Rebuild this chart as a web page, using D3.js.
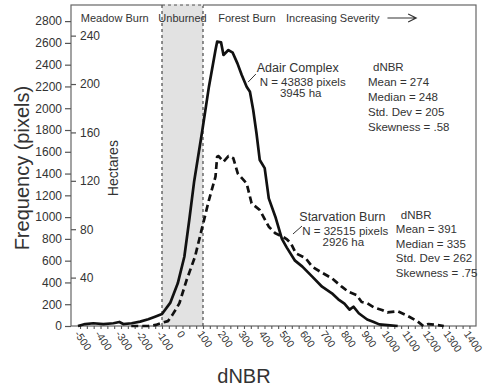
<!DOCTYPE html>
<html>
<head>
<meta charset="utf-8">
<script src="https://cdn.jsdelivr.net/npm/d3@7"></script>
<style>
  body { margin: 0; background: #fff; }
  text { font-family: "Liberation Sans", Arial, sans-serif; fill: #333; }
</style>
</head>
<body>
<div class="chart"></div>
<script>
// dNBR bins and pixel counts
var adairDnbr = [-510,-475,-435,-386,-337,-308,-289,-248,-207,-167,-134,-100,-60,-23,9,33,57,97,129,161,169,188,200,224,245,268,289,313,329,345,361,377,401,421,453,485,509,549,585,633,681,729,760,790,815,834,860,901,930,960,1000,1050];
var adairFreq = [0,18,25,18,25,37,18,25,40,62,85,110,212,392,636,973,1330,1800,2198,2534,2611,2605,2489,2534,2510,2412,2305,2198,2152,1984,1770,1524,1450,1172,1004,800,720,600,545,453,361,300,245,205,150,177,117,60,40,15,8,0];

var starvDnbr = [-250,-167,-130,-108,-71,-50,-30,-15,20,61,97,129,161,169,176,200,224,248,270,313,337,377,421,453,489,510,529,553,601,633,672,729,777,809,849,874,901,933,973,1000,1050,1090,1145,1175,1200,1240,1275];
var starvFreq = [0,0,10,25,45,100,160,210,422,636,912,1157,1371,1555,1561,1509,1561,1540,1400,1310,1127,1065,912,851,820,795,759,668,622,545,499,438,361,315,285,220,210,172,147,125,135,101,45,0,18,9,0];

var xTicks = d3.range(-500, 1401, 100);
var yTicks = d3.range(0, 2801, 200);
var haTicks = [40, 80, 120, 160, 200, 240];
var haPerPixel = 0.09;   // 30 m pixels

var adairStats = ["dNBR", "Mean = 274", "Median = 248", "Std. Dev = 205", "Skewness = .58"];
var starvStats = ["dNBR", "Mean = 391", "Median = 335", "Std. Dev = 262", "Skewness = .75"];

var margin = {top: 5, right: 8, bottom: 63, left: 71},
    fullWidth = 484,
    fullHeight = 389,
    width = fullWidth - margin.left - margin.right,
    height = fullHeight - margin.top - margin.bottom;

var svg = d3.select(".chart")
    .append("svg")
    .attr("width", fullWidth)
    .attr("height", fullHeight);

var g = svg.append("g")
    .attr("transform", "translate(" + margin.left + "," + margin.top + ")");

var x = d3.scaleLinear().domain([-544, 1432]).range([0, width]);
var y = d3.scaleLinear().domain([0, 2948]).range([height, 0]);
var yHa = d3.scaleLinear().domain([0, 2948 * haPerPixel]).range([height, 0]);

// unburned band
g.append("rect")
    .attr("x", x(-100))
    .attr("y", 0)
    .attr("width", x(100) - x(-100))
    .attr("height", height)
    .attr("fill", "#e2e2e2");

// frame
g.append("rect")
    .attr("width", width)
    .attr("height", height)
    .attr("fill", "none")
    .attr("stroke", "#666")
    .attr("stroke-width", 1.2);

[-100, 100].forEach(function (d) {
    g.append("line")
	.attr("x1", x(d)).attr("x2", x(d))
	.attr("y1", 0).attr("y2", height)
	.attr("stroke", "#555")
	.attr("stroke-width", 1.3)
	.attr("stroke-dasharray", "3,3");
});
g.append("line")
    .attr("x1", x(-100)).attr("x2", x(100))
    .attr("y1", 0).attr("y2", 0)
    .attr("stroke", "#fff").attr("stroke-width", 1.5)
    .attr("stroke-dasharray", "3,3").attr("stroke-dashoffset", 3);

// left axis, pixels
var yAxis = g.append("g")
    .call(d3.axisLeft(y).tickValues(yTicks).tickSize(6).tickPadding(3).tickFormat(d => String(d)));
yAxis.select(".domain").remove();
yAxis.selectAll("line").attr("stroke", "#555").attr("stroke-width", 1.2);
yAxis.selectAll("text")
    .style("font-family", "'Liberation Sans', Arial, sans-serif")
    .style("font-size", "12px").attr("fill", "#333");

// inner axis, hectares
var haAxis = g.append("g")
    .call(d3.axisRight(yHa).tickValues(haTicks).tickSize(5).tickPadding(4).tickFormat(d => String(d)));
haAxis.select(".domain").remove();
haAxis.selectAll("line").attr("stroke", "#555").attr("stroke-width", 1.2);
haAxis.selectAll("text")
    .style("font-family", "'Liberation Sans', Arial, sans-serif")
    .style("font-size", "12px").attr("fill", "#333");

// bottom axis
var xAxis = g.append("g")
    .attr("transform", "translate(0," + height + ")")
    .call(d3.axisBottom(x).tickValues(d3.range(-500, 1420, 100 / 3))
	  .tickSize(3).tickFormat(""));
xAxis.select(".domain").remove();
xAxis.selectAll("line").attr("stroke", "#555").attr("stroke-width", 1.1);

g.append("g")
    .selectAll("text")
    .data(xTicks)
    .enter()
    .append("text")
    .attr("transform", d => "translate(" + (x(d) - 6) + "," + (height + 8) + ") rotate(55)")
    .style("font-size", "10.5px")
    .text(d => String(d));

// curves
var line = d3.line()
    .x(d => x(d[0]))
    .y(d => y(d[1]));

g.append("path")
    .datum(d3.zip(starvDnbr, starvFreq))
    .attr("d", line)
    .attr("fill", "none")
    .attr("stroke", "#111")
    .attr("stroke-width", 2.7)
    .attr("stroke-dasharray", "7,4")
    .attr("stroke-linejoin", "round");

g.append("path")
    .datum(d3.zip(adairDnbr, adairFreq))
    .attr("d", line)
    .attr("fill", "none")
    .attr("stroke", "#111")
    .attr("stroke-width", 2.7)
    .attr("stroke-linejoin", "round");

// region labels along the top
var topLabels = g.append("g").style("font-size", "11px");
topLabels.append("text").attr("x", x(-496)).attr("y", 17).text("Meadow Burn");
topLabels.append("text").attr("x", x(0)).attr("y", 17).attr("text-anchor", "middle").text("Unburned");
topLabels.append("text").attr("x", x(174)).attr("y", 17).text("Forest Burn");
topLabels.append("text").attr("x", x(505)).attr("y", 17).text("Increasing Severity");
topLabels.append("path")
    .attr("d", "M" + x(1000) + ",13H" + x(1140) + "M" + (x(1140) - 8) + ",9L" + x(1140) + ",13L" + (x(1140) - 8) + ",17")
    .attr("fill", "none").attr("stroke", "#333").attr("stroke-width", 1.2);

// fire annotations
function annotate(name, n, ha, at, leader, stats, statAt, step) {
    var a = g.append("g");
    a.append("text").attr("x", x(at[0])).attr("y", y(at[1]))
	.style("font-size", "12.5px").text(name);
    a.append("text").attr("x", x(at[0]) + 3).attr("y", y(at[1]) + 14)
	.style("font-size", "11.5px").text(n);
    a.append("text").attr("x", x(at[0]) + 44).attr("y", y(at[1]) + 25)
	.attr("text-anchor", "middle").style("font-size", "11.5px").text(ha);
    a.append("line")
	.attr("x1", x(leader[0])).attr("y1", y(leader[1]))
	.attr("x2", x(leader[2])).attr("y2", y(leader[3]))
	.attr("stroke", "#333").attr("stroke-width", 1);
    a.selectAll(".stat")
	.data(stats)
	.enter()
	.append("text")
	.attr("x", (d, i) => x(statAt[0]) + (i == 0 ? 5 : 0))
	.attr("y", (d, i) => y(statAt[1]) + i * step)
	.style("font-size", "11.5px")
	.text(d => d);
}

annotate("Adair Complex", "N = 43838 pixels", "3945 ha",
	 [362, 2335], [320, 2240, 358, 2314], adairStats, [905, 2342], 15);
annotate("Starvation Burn", "N = 32515 pixels", "2926 ha",
	 [570, 967], [539, 845, 583, 918], starvStats, [1041, 983], 14.5);

// axis titles
svg.append("text")
    .attr("transform", "translate(29," + (margin.top + y(1450)) + ") rotate(-90)")
    .attr("text-anchor", "middle")
    .style("font-size", "20px")
    .text("Frequency (pixels)");

g.append("text")
    .attr("transform", "translate(47," + y(1450) + ") rotate(-90)")
    .attr("text-anchor", "middle")
    .style("font-size", "14px")
    .text("Hectares");

svg.append("text")
    .attr("x", margin.left + x(300))
    .attr("y", 383)
    .attr("text-anchor", "middle")
    .style("font-size", "20px")
    .text("dNBR");
</script>
</body>
</html>
